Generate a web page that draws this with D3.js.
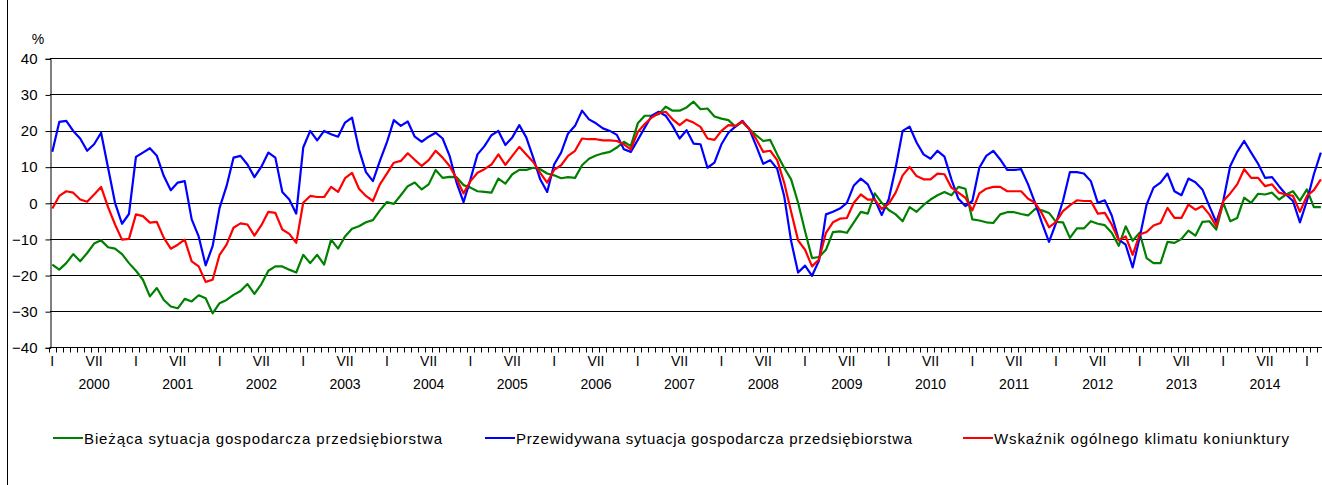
<!DOCTYPE html>
<meta charset="utf-8">
<html>
<head>
<script src="https://d3js.org/d3.v7.min.js"></script>
<style>
body { margin: 0; background: #fff; }
text { font-family: "Liberation Sans", Arial, sans-serif; fill: #000; }
.grid line { stroke: #000; stroke-width: 1; shape-rendering: crispEdges; }
.series { fill: none; stroke-width: 2.2; stroke-linejoin: round; }
</style>
</head>
<body>
<div id="chart"></div>
<script>
// months Jan 2000 .. Mar 2015
var startYear = 2000;
var years = [2000, 2001, 2002, 2003, 2004, 2005, 2006, 2007, 2008, 2009, 2010, 2011, 2012, 2013, 2014];
var monthNames = ["I", "", "", "", "", "", "VII", "", "", "", "", ""];
var yTicks = [40, 30, 20, 10, 0, -10, -20, -30, -40];

var names = [
  "Bieżąca sytuacja gospodarcza przedsiębiorstwa",
  "Przewidywana sytuacja gospodarcza przedsiębiorstwa",
  "Wskaźnik ogólnego klimatu koniunktury"
];
var colors = ["#008000", "#0000ff", "#ff0000"];

var current = [
  -17.1, -18.5, -16.7, -14.2, -16.2, -13.9, -11.3, -10.4, -12.3, -12.7, -14.2, -16.7,
  -18.8, -21.3, -25.9, -23.6, -26.9, -28.7, -29.2, -26.6, -27.3, -25.6, -26.4, -30.6,
  -27.8, -26.9, -25.5, -24.4, -22.5, -25.2, -22.5, -18.8, -17.6, -17.6, -18.5, -19.3,
  -14.4, -16.7, -14.4, -17.1, -10.2, -12.7, -9.3, -7.2, -6.5, -5.4, -4.8, -2.1,
  0.2, -0.3, 2.1, 4.6, 5.6, 3.7, 5.1, 9.1, 6.9, 7.2, 7.1, 4.9,
  4.2, 3.2, 3.0, 2.8, 6.7, 5.3, 7.9, 9.1, 9.1, 9.7, 9.3, 8.1,
  7.6, 6.8, 7.1, 6.9, 10.4, 12.2, 13.1, 13.7, 14.1, 15.3, 16.9, 15.7,
  22.0, 24.1, 24.1, 24.5, 26.6, 25.5, 25.5, 26.4, 28.0, 25.9, 26.1, 23.9,
  23.3, 22.9, 21.1, 22.4, 20.4, 18.7, 17.1, 17.4, 13.4, 9.7, 6.5, 0,
  -7.9, -15.3, -15.0, -13.0, -8.1, -7.9, -8.3, -5.4, -2.5, -3.0, 2.6, 0,
  -2.0, -3.2, -5.1, -1.2, -2.5, -0.6, 0.9, 2.1, 3.0, 2.1, 4.4, 3.9,
  -4.6, -4.9, -5.4, -5.6, -3.2, -2.6, -2.6, -3.1, -3.5, -1.7, -2.1, -2.8,
  -5.3, -5.4, -9.7, -7.1, -7.1, -5.1, -5.8, -6.2, -8.3, -11.9, -6.5, -10.5,
  -8.3, -15.3, -16.7, -16.7, -10.8, -11.1, -10.0, -7.7, -9.1, -5.3, -5.1, -7.4,
  0, -5.1, -4.2, 1.4, 0, 2.5, 2.3, 2.8, 0.9, 2.3, 3.2, 0.6,
  3.7, -1.2, -1.2
];

var expected = [
  14.1, 22.4, 22.7, 19.9, 17.8, 14.4, 16.2, 19.4, 9.7, 0, -5.8, -3.1,
  12.7, 13.9, 15.1, 13.0, 7.4, 3.5, 5.6, 6.0, -4.6, -9.3, -17.3, -12.0,
  -1.4, 4.6, 12.5, 13.0, 10.6, 7.1, 10.0, 13.9, 12.5, 3.0, 0.9, -3.0,
  15.3, 19.9, 17.3, 19.9, 19.0, 18.3, 22.2, 23.6, 14.8, 8.5, 6.0, 11.6,
  16.7, 22.9, 21.3, 22.5, 18.3, 16.9, 18.3, 19.4, 17.8, 13.0, 5.6, 0.2,
  6.5, 13.4, 15.7, 18.7, 19.9, 16.0, 18.1, 21.5, 18.1, 12.5, 6.5, 3.0,
  10.6, 13.9, 19.2, 21.3, 25.5, 23.1, 22.0, 20.6, 19.9, 18.8, 14.8, 14.1,
  17.4, 20.8, 24.1, 25.2, 24.1, 21.3, 17.8, 20.1, 16.4, 16.2, 9.7, 11.1,
  16.2, 19.4, 21.1, 22.7, 20.4, 15.7, 10.8, 11.8, 9.4, 1.9, -10.6, -19.3,
  -17.4, -20.2, -16.0, -3.2, -2.5, -1.6, 0, 4.8, 6.7, 5.1, 0.9, -3.4,
  1.0, 9.7, 19.9, 21.1, 16.7, 13.4, 12.2, 14.4, 12.8, 6.5, 1.1, -0.9,
  0.5, 9.7, 13.0, 14.4, 12.0, 9.1, 9.1, 9.3, 5.1, 0, -5.6, -10.8,
  -5.6, 0.5, 8.5, 8.5, 8.1, 6.0, 0, 0.7, -3.5, -10.2, -11.6, -17.9,
  -9.7, -0.5, 4.2, 5.6, 8.1, 3.2, 2.1, 6.7, 5.7, 3.7, -0.9, -5.4,
  0.5, 10.2, 14.1, 17.1, 13.9, 10.8, 6.9, 7.1, 4.6, 2.3, 0.5, -5.4,
  0.5, 7.9, 13.9
];

var climate = [
  -1.6, 1.9, 3.2, 2.8, 0.9, 0.3, 2.3, 4.4, -1.2, -6.0, -10.2, -10.0,
  -3.2, -3.7, -5.5, -5.3, -9.7, -12.7, -11.6, -10.2, -16.2, -17.6, -21.9, -21.3,
  -14.4, -11.6, -6.9, -5.7, -6.0, -9.1, -6.2, -2.5, -2.8, -7.4, -8.6, -11.1,
  0, 1.9, 1.6, 1.6, 4.4, 3.0, 6.8, 8.3, 3.9, 1.9, 0.5, 5.1,
  8.1, 11.1, 11.6, 13.7, 11.9, 10.2, 11.8, 14.4, 12.5, 10.2, 6.7, 2.6,
  6.0, 8.3, 9.3, 10.6, 13.4, 10.5, 13.0, 15.5, 13.4, 11.3, 8.3, 5.6,
  9.1, 10.4, 13.0, 14.4, 17.8, 17.6, 17.6, 17.3, 17.3, 17.1, 16.2, 14.8,
  19.6, 21.8, 23.6, 24.8, 25.2, 23.1, 21.5, 23.0, 22.2, 21.0, 17.8, 17.4,
  19.9, 21.5, 21.3, 22.5, 20.4, 17.6, 14.1, 14.4, 11.8, 5.6, -2.5, -10.4,
  -13.0, -17.6, -15.7, -8.3, -5.4, -4.4, -4.2, 0, 2.3, 0.9, 0.9, -1.7,
  -0.3, 2.8, 7.6, 9.9, 7.4, 6.5, 6.5, 8.1, 7.9, 4.2, 2.8, 1.4,
  -2.1, 2.6, 3.9, 4.4, 4.4, 3.2, 3.2, 3.2, 1.1, 0, -3.0, -6.8,
  -5.3, -2.3, -0.7, 0.7, 0.5, 0.5, -3.0, -2.8, -6.0, -10.4, -9.3, -14.4,
  -8.8, -8.1, -6.3, -5.6, -1.4, -4.2, -4.2, -0.5, -1.9, -0.9, -3.2, -6.5,
  0.5, 2.6, 5.1, 9.3, 6.9, 6.9, 4.6, 5.1, 2.8, 2.3, 1.9, -2.5,
  1.9, 3.5, 6.5
];

var series = [current, expected, climate];
var n = current.length;

var width = 1322, height = 485;
var svg = d3.select("#chart").append("svg")
    .attr("width", width)
    .attr("height", height);

// plot area
var plotLeft = 50, plotRight = 1322;
var step = 6.97;
var x = d3.scaleLinear().domain([0, n - 1]).range([52.3, 52.3 + step * (n - 1)]);
var y = d3.scaleLinear().domain([-40, 40]).range([347.3, 58.3]);

// outer frame (left edge only visible)
svg.append("line")
    .attr("x1", 7.5).attr("x2", 7.5)
    .attr("y1", 0).attr("y2", height)
    .attr("stroke", "#000").attr("stroke-width", 1);

// horizontal gridlines
svg.append("g").attr("class", "grid")
  .selectAll("line").data(yTicks).enter().append("line")
    .attr("x1", plotLeft).attr("x2", plotRight)
    .attr("y1", function (d) { return Math.round(y(d)) + 0.5; })
    .attr("y2", function (d) { return Math.round(y(d)) + 0.5; });

// y axis
var yAxis = d3.axisLeft(y).tickValues(yTicks).tickSize(5).tickPadding(8);
var gy = svg.append("g")
    .attr("transform", "translate(" + (plotLeft + 0.5) + ",0.5)")
    .call(yAxis);
gy.select(".domain").attr("stroke", "#000");
gy.selectAll(".tick line").attr("stroke", "#000");
gy.selectAll(".tick text")
    .style("font-size", "15px")
    .attr("fill", "#000")
    .attr("font-family", "Liberation Sans, Arial, sans-serif");

svg.append("text")
    .attr("x", 38).attr("y", 43.5)
    .attr("text-anchor", "middle")
    .style("font-size", "14px")
    .text("%");

// x axis line and month ticks
var bottom = Math.round(y(-40)) + 0.5;
svg.append("line")
    .attr("x1", plotLeft).attr("x2", plotRight)
    .attr("y1", bottom).attr("y2", bottom)
    .attr("stroke", "#000");

svg.append("g").selectAll("line")
    .data(d3.range(0, n + 1))
    .enter().append("line")
    .attr("x1", function (i) { return Math.round(x(i) - step / 2) + 0.5; })
    .attr("x2", function (i) { return Math.round(x(i) - step / 2) + 0.5; })
    .attr("y1", bottom).attr("y2", bottom + 5)
    .attr("stroke", "#000");

// month labels
svg.append("g").selectAll("text")
    .data(d3.range(0, n).filter(function (i) { return monthNames[i % 12] !== ""; }))
    .enter().append("text")
    .attr("x", function (i) { return x(i); })
    .attr("y", 366)
    .attr("text-anchor", "middle")
    .style("font-size", "14px")
    .text(function (i) { return monthNames[i % 12]; });

// year labels
svg.append("g").selectAll("text")
    .data(years)
    .enter().append("text")
    .attr("x", function (d) { return x((d - startYear) * 12 + 6); })
    .attr("y", 389)
    .attr("text-anchor", "middle")
    .style("font-size", "14px")
    .text(function (d) { return d; });

// series lines
var line = d3.line()
    .x(function (d, i) { return x(i); })
    .y(function (d) { return y(d); });

svg.append("g").selectAll("path")
    .data(series)
    .enter().append("path")
    .attr("class", "series")
    .attr("stroke", function (d, k) { return colors[k]; })
    .attr("d", line);

// legend
var legendX = [53, 485, 963];
var legendW = [358, 396, 295];
var lg = svg.append("g").selectAll("g")
    .data(names)
    .enter().append("g")
    .attr("transform", function (d, k) { return "translate(" + legendX[k] + ",438)"; });

lg.append("line")
    .attr("x1", 0).attr("x2", 30)
    .attr("y1", 0).attr("y2", 0)
    .attr("stroke", function (d, k) { return colors[k]; })
    .attr("stroke-width", 2);

lg.append("text")
    .attr("x", 31).attr("y", 5.5)
    .style("font-size", "15px")
    .attr("textLength", function (d, k) { return legendW[k]; })
    .attr("lengthAdjust", "spacing")
    .text(function (d) { return d; });
</script>
</body>
</html>
